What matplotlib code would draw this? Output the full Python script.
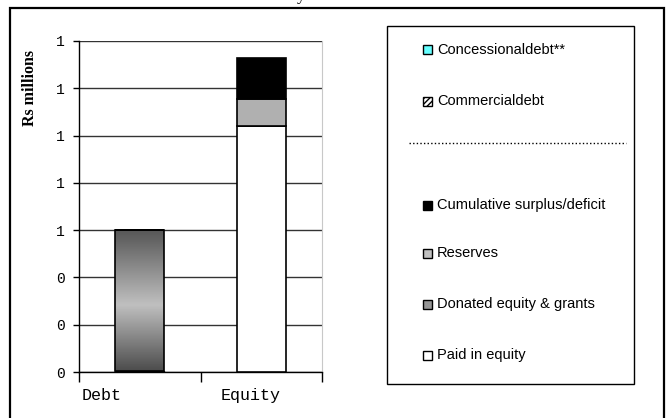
import numpy as np
import matplotlib
matplotlib.use('Agg')
from matplotlib import pyplot as plt
from matplotlib.patches import Rectangle
from matplotlib.lines import Line2D

W, H = 668, 418

# stacked values, Rs millions
categories = ['Debt', 'Equity']
commercial_debt = [0.005, 0.0]
concessional_debt = [0.595, 0.0]
paid_in_equity = [0.0, 1.04]
donated_equity = [0.0, 0.0]
reserves = [0.0, 0.115]
cumulative_surplus = [0.0, 0.175]

y_ticks = [0.0, 0.2, 0.4, 0.6, 0.8, 1.0, 1.2, 1.4]

legend_labels = ['Concessionaldebt**', 'Commercialdebt',
                 'Cumulative surplus/deficit', 'Reserves',
                 'Donated equity & grants', 'Paid in equity']


def fx(x):
    return x / W


def fy(y):
    return 1 - y / H


fig = plt.figure(figsize=(W / 100, H / 100), dpi=100)

# outer frame (bottom edge runs off the page)
fig.patches.append(Rectangle((fx(10), fy(440)), fx(664) - fx(10), fy(8) - fy(440),
                             transform=fig.transFigure, fill=False,
                             edgecolor='black', linewidth=1.6))

ax = fig.add_axes([fx(79), fy(372), fx(322) - fx(79), fy(41) - fy(372)])
ax.set_axisbelow(True)

x = np.arange(len(categories))
bw = 0.4

# debt bar with shaded fill
bottom = np.zeros(len(categories))
ax.bar(x, commercial_debt, bw, bottom=bottom, facecolor='#444444',
       edgecolor='black', linewidth=1, hatch='....')
bottom += commercial_debt
debt_bar = ax.bar(x, concessional_debt, bw, bottom=bottom, facecolor='none',
                  edgecolor='black', linewidth=1.2, zorder=3)
bottom += concessional_debt

shade = np.interp(np.linspace(0, 1, 200), [0, 0.47, 1], [0.30, 0.75, 0.34])
grad = np.tile(shade[::-1, None], (1, 2))
p = debt_bar[0]
img = ax.imshow(grad, cmap='gray', vmin=0, vmax=1, aspect='auto',
                extent=[p.get_x(), p.get_x() + p.get_width(),
                        p.get_y(), p.get_y() + p.get_height()], zorder=2)
img.set_clip_path(p)

# equity stack
ax.bar(x, paid_in_equity, bw, bottom=bottom, facecolor='white',
       edgecolor='black', linewidth=1.2, zorder=3)
bottom += paid_in_equity
ax.bar(x, donated_equity, bw, bottom=bottom, facecolor='#969696',
       edgecolor='black', linewidth=1.2, zorder=3)
bottom += donated_equity
ax.bar(x, reserves, bw, bottom=bottom, facecolor='#b0b0b0',
       edgecolor='black', linewidth=1.2, zorder=3)
bottom += reserves
ax.bar(x, cumulative_surplus, bw, bottom=bottom, facecolor='black',
       edgecolor='black', linewidth=1.2, zorder=3)

ax.set_xlim(-0.5, 1.5)
ax.set_ylim(0, 1.4)
ax.set_yticks(y_ticks)
ax.set_yticklabels(['%.0f' % v for v in y_ticks], fontfamily='Liberation Mono',
                   fontsize=10.5)
ax.yaxis.grid(True, color='#333333', linewidth=1)
ax.tick_params(axis='y', direction='out', length=4, width=1, pad=6)

ax.set_xticks([-0.5, 0.5, 1.5])
ax.set_xticklabels([])
ax.tick_params(axis='x', direction='out', length=7, width=1)
for lbl, xpos in zip(categories, [-0.31, 0.91]):
    ax.text(xpos, -0.07, lbl, ha='center', va='center', fontsize=12,
            fontfamily='Liberation Mono', transform=ax.get_xaxis_transform())

ax.spines['top'].set_visible(False)
ax.spines['right'].set_color('#c8c8c8')
ax.spines['left'].set_linewidth(1)
ax.spines['bottom'].set_linewidth(1)

fig.text(fx(30), fy(88), 'Rs millions', rotation=90, ha='center', va='center',
         fontsize=11.5, fontweight='bold', fontfamily='Liberation Serif')

# title, mostly off the top of the page
fig.text(fx(297), 1.0, 'y', ha='left', va='baseline', fontsize=12,
         fontfamily='Liberation Serif')

# legend panel
fig.patches.append(Rectangle((fx(387), fy(384)), fx(634) - fx(387), fy(26) - fy(384),
                             transform=fig.transFigure, fill=False,
                             edgecolor='black', linewidth=1))
fig.lines.append(Line2D([fx(409), fx(626)], [fy(143), fy(143)],
                        transform=fig.transFigure, color='black', linewidth=1,
                        linestyle=(0, (1, 1.6))))

swatches = [dict(facecolor='#66ffff'), dict(facecolor='white', hatch='//////'),
            dict(facecolor='black'), dict(facecolor='#c0c0c0'),
            dict(facecolor='#969696'), dict(facecolor='white')]
rows = [50, 101, 205, 253, 304, 355]
for lbl, sw, ry in zip(legend_labels, swatches, rows):
    fig.patches.append(Rectangle((fx(423), fy(ry + 4.5)), fx(9), 9 / H,
                                 transform=fig.transFigure, edgecolor='black',
                                 linewidth=1, **sw))
    fig.text(fx(437), fy(ry), lbl, ha='left', va='center', fontsize=10.5,
             fontfamily='Liberation Sans')

fig.savefig('out.png', dpi=100)
